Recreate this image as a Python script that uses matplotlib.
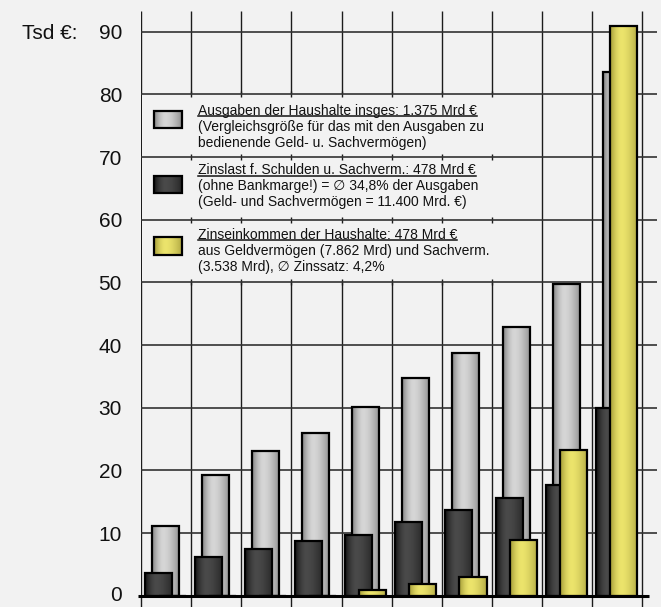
import numpy as np
import matplotlib
matplotlib.use("Agg")
import matplotlib.pyplot as plt
from matplotlib.patches import Rectangle
from matplotlib import transforms

# ---------------- data ----------------
groups = list(range(10))
ausgaben = [11.2, 19.3, 23.1, 26.0, 30.1, 34.8, 38.8, 42.9, 49.8, 83.6]
zinslast = [3.7, 6.2, 7.45, 8.7, 9.7, 11.7, 13.6, 15.6, 17.7, 30.0]
zinseinkommen = [0, 0, 0, 0, 0.85, 1.87, 3.0, 8.9, 23.3, 90.9]
yticks = [0, 10, 20, 30, 40, 50, 60, 70, 80, 90]
ylabel_text = "Tsd €:"
legend_lines = [
    ["Ausgaben der Haushalte insges: 1.375 Mrd €",
     "(Vergleichsgröße für das mit den Ausgaben zu",
     "bedienende Geld- u. Sachvermögen)"],
    ["Zinslast f. Schulden u. Sachverm.: 478 Mrd €",
     "(ohne Bankmarge!) = \u2205 34,8% der Ausgaben",
     "(Geld- und Sachvermögen = 11.400 Mrd. €)"],
    ["Zinseinkommen der Haushalte: 478 Mrd €",
     "aus Geldvermögen (7.862 Mrd) und Sachverm.",
     "(3.538 Mrd), \u2205 Zinssatz: 4,2%"],
]

BG = "#f2f2f2"
FONT = ["Liberation Sans", "DejaVu Sans"]
plt.rcParams["font.family"] = FONT

grad_gray = ["#858585", "#d6d6d6", "#8e8e8e"]
grad_dark = ["#161616", "#4a4a4a", "#262626"]
grad_yellow = ["#a49c38", "#ece46c", "#b2aa44"]


def make_grad(cols, mid=0.42, n=64):
    c = [np.array(matplotlib.colors.to_rgb(x)) for x in cols]
    t = np.linspace(0, 1, n)
    out = np.zeros((1, n, 3))
    for i, v in enumerate(t):
        if v <= mid:
            f = v / mid
            f = np.sin(f * np.pi / 2)
            out[0, i] = c[0] * (1 - f) + c[1] * f
        else:
            f = (v - mid) / (1 - mid)
            f = f ** 1.6
            out[0, i] = c[1] * (1 - f) + c[2] * f
    return out


fig = plt.figure(figsize=(6.61, 6.07), dpi=100, facecolor=BG)
ax = fig.add_axes([141 / 661, 11.3 / 607, (657 - 141) / 661, (596 - 11.3) / 607])
ax.set_facecolor(BG)
for s in ax.spines.values():
    s.set_visible(False)

XMAX = 10.29
YMAX = 93.3

# grid
ax.vlines(range(11), 0, YMAX, color="#1c1c1c", lw=1.0, zorder=0.5)
ax.add_patch(Rectangle((0.02, 50), 7.96, 30, facecolor=BG, edgecolor="none", zorder=0.6))
ax.hlines(yticks[1:], 0, XMAX, color="#333333", lw=1.2, zorder=0.8)
for yy in [50, 60, 70, 80]:
    ax.vlines(range(1, 8), yy - 0.5, yy + 0.5, color="#1c1c1c", lw=1.0, zorder=0.7)

W = 0.54
series = [
    (ausgaben, 0.21, grad_gray, 2),
    (zinslast, 0.07, grad_dark, 3),
    (zinseinkommen, 0.35, grad_yellow, 4),
]
for vals, off, cols, z in series:
    bars = ax.bar([g + off for g in groups], vals, width=W, align="edge",
                  facecolor="none", edgecolor="black", linewidth=1.6, zorder=z + 0.1)
    g = make_grad(cols)
    for p in bars:
        h = p.get_height()
        if h <= 0:
            continue
        x0 = p.get_x()
        im = ax.imshow(g, extent=(x0, x0 + p.get_width(), 0, h), aspect="auto",
                       interpolation="bilinear", zorder=z)
        im.set_clip_path(p)

# baseline
ax.plot([-0.06, 10.13], [0, 0], color="black", lw=2.2, clip_on=False, zorder=6,
        solid_capstyle="butt")

ax.set_xlim(0, XMAX)
ax.set_ylim(0, YMAX)
ax.set_yticks(yticks)
ax.set_yticklabels([])
ax.tick_params(axis="y", length=0)
ax.set_xticks(range(11))
ax.set_xticklabels([])
ax.tick_params(axis="x", length=8.2, width=1.0, color="#1c1c1c", direction="out")

# y tick labels (drawn as text so the bottom one stays inside the figure)
ylab_trans = transforms.blended_transform_factory(ax.transAxes, ax.transData)
for v in yticks:
    off = transforms.ScaledTranslation(-19 / 100, (2.4 if v == 0 else 0) / 100,
                                       fig.dpi_scale_trans)
    ax.text(0, v, str(v), transform=ylab_trans + off, ha="right", va="center_baseline",
            fontsize=15, color="#111111", clip_on=False)

trans = transforms.blended_transform_factory(fig.transFigure, ax.transData)
fig.text(77 / 661, 90, ylabel_text, transform=trans, ha="right", va="center_baseline",
         fontsize=15, color="#111111")

# legend
patch_y = [(74.7, 77.4), (64.3, 67.0), (54.3, 57.3)]
grads = [grad_gray, grad_dark, grad_yellow]
baselines = [[76.70, 74.20, 71.65], [67.24, 64.74, 62.18], [56.93, 54.38, 51.81]]
TX = 1.137
under = []
for i in range(3):
    y0, y1 = patch_y[i]
    r = Rectangle((0.26, y0), 0.55, y1 - y0, facecolor="none", edgecolor="black",
                  linewidth=1.6, zorder=7.1)
    ax.add_patch(r)
    im = ax.imshow(make_grad(grads[i]), extent=(0.26, 0.81, y0, y1), aspect="auto",
                   interpolation="bilinear", zorder=7)
    im.set_clip_path(r)
    for j, line in enumerate(legend_lines[i]):
        t = ax.text(TX, baselines[i][j], line, ha="left", va="baseline", fontsize=10,
                    color="#111111", zorder=8, family=FONT)
        if j == 0:
            under.append((t, baselines[i][j]))

ax.set_xlim(0, XMAX)
ax.set_ylim(0, YMAX)

fig.canvas.draw()
r = fig.canvas.get_renderer()
inv = ax.transData.inverted()
for t, yb in under:
    bb = t.get_window_extent(r)
    xa = inv.transform((bb.x0, 0))[0]
    xb = inv.transform((bb.x1, 0))[0]
    ax.plot([xa, xb], [yb - 0.22, yb - 0.22], color="#111111", lw=1.1, zorder=8)

fig.savefig("out.png", dpi=100, facecolor=BG)
